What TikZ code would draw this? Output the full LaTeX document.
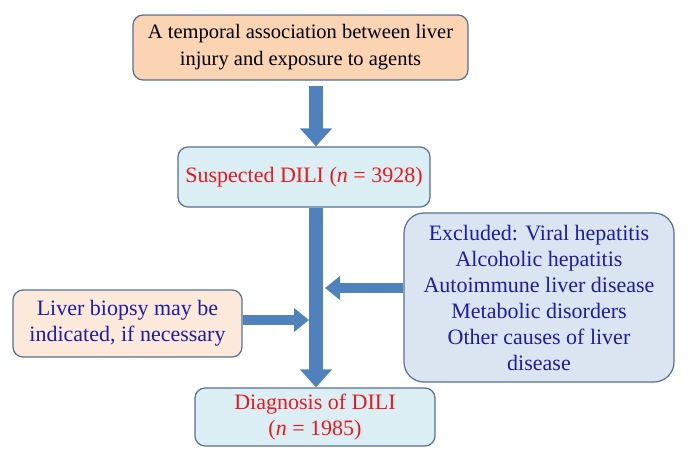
\documentclass[tikz,border=0pt]{standalone}
\usepackage{fontspec}
\setmainfont{Liberation Serif}
\usetikzlibrary{arrows.meta}
\definecolor{peach}{HTML}{FBD4B4}
\definecolor{lightpeach}{HTML}{FDE9D9}
\definecolor{paleblue}{HTML}{DAEEF3}
\definecolor{steelpale}{HTML}{DBE5F1}
\definecolor{frame}{HTML}{56708F}
\definecolor{arrowblue}{HTML}{4F81BD}
\definecolor{txtred}{HTML}{E8191E}
\definecolor{txtnavy}{HTML}{1C1CA8}
\tikzset{
  box/.style={draw=frame, line width=1.2pt, rounded corners=10pt, align=center, inner sep=0pt},
  bigflow/.style={draw=arrowblue, line width=14pt, line cap=butt, -{Triangle[length=18pt,width=31pt]}},
  sideflow/.style={draw=arrowblue, line width=10pt, line cap=butt, -{Triangle[length=15pt,width=23pt]}}
}
\begin{document}
\begin{tikzpicture}[x=1pt, y=-1pt, font=\fontsize{22}{26}\selectfont, line join=round]
\useasboundingbox (0,0) rectangle (689,461);
\path (316,0) coordinate (axis)
      (325,288) coordinate (exin)
      (309,320) coordinate (bioin);
\node[box, fill=peach, minimum width=335pt, minimum height=65pt, font=\fontsize{20.5}{27}\selectfont] (assoc) at (300.5,47.5)
  {A temporal association between liver\\injury and exposure to agents};
\node[box, fill=paleblue, minimum width=252pt, minimum height=60pt, text=txtred] (susp) at (304,177)
  {Suspected DILI (\textit{n} = 3928)};
\node[box, fill=lightpeach, minimum width=229pt, minimum height=67pt, text=txtnavy] (bio) at (127.5,323.5)
  {Liver biopsy may be\\indicated, if necessary};
\node[box, fill=steelpale, rounded corners=20pt, minimum width=270pt, minimum height=169pt, text=txtnavy] (excl) at (539,297.5)
  {Excluded: Viral hepatitis\\Alcoholic hepatitis\\Autoimmune liver disease\\Metabolic disorders\\Other causes of liver\\disease};
\node[box, fill=paleblue, minimum width=240pt, minimum height=58pt, text=txtred] (diag) at (315,417)
  {Diagnosis of DILI\\(\textit{n} = 1985)};
\draw[bigflow, shorten <=5pt] (assoc.south -| axis) -- (susp.north -| axis);
\draw[bigflow] (susp.south -| axis) -- (diag.north -| axis);
\draw[sideflow] (excl.west |- exin) -- (exin);
\draw[sideflow] (bio.east |- bioin) -- (bioin);
\end{tikzpicture}
\end{document}
